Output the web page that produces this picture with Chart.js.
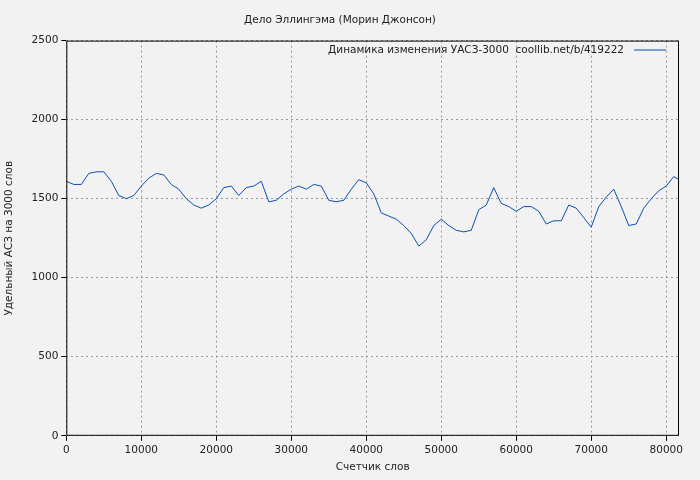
<!DOCTYPE html><html><head><meta charset="utf-8">
<script src="https://cdn.jsdelivr.net/npm/chart.js@4"></script>
<style>body{margin:0;background:#f2f2f2}#w{width:700px;height:480px}</style></head><body><div id="w"><canvas id="c"></canvas></div>
<script>
const xWords=[0,1000,2000,3000,4000,5000,6000,7000,8000,9000,10000,11000,12000,13000,14000,15000,16000,17000,18000,19000,20000,21000,22000,23000,24000,25000,26000,27000,28000,29000,30000,31000,32000,33000,34000,35000,36000,37000,38000,39000,40000,41000,42000,43000,44000,45000,46000,47000,48000,49000,50000,51000,52000,53000,54000,55000,56000,57000,58000,59000,60000,61000,62000,63000,64000,65000,66000,67000,68000,69000,70000,71000,72000,73000,74000,75000,76000,77000,78000,79000,80000,81000,81700];
const uasValues=[1610,1590,1590,1660,1670,1670,1610,1520,1500,1520,1580,1630,1660,1650,1590,1560,1500,1460,1440,1460,1500,1570,1580,1520,1570,1580,1610,1480,1490,1530,1560,1580,1560,1590,1580,1490,1480,1490,1560,1620,1600,1530,1410,1390,1370,1330,1280,1200,1240,1330,1370,1330,1300,1290,1300,1430,1460,1570,1470,1450,1420,1450,1450,1420,1340,1360,1360,1460,1440,1380,1320,1450,1510,1560,1450,1330,1340,1440,1500,1550,1580,1640,1620];
const xTicks=[0,10000,20000,30000,40000,50000,60000,70000,80000];
const yTicks=[0,500,1000,1500,2000,2500];
const legendLabel='Динамика изменения УАСЗ-3000  coollib.net/b/419222';
const F='"DejaVu Sans"';
const FS=10.5;
const leg={id:'leg',afterDraw(ch){const c=ch.ctx,a=ch.chartArea;c.save();c.font=FS+'px '+F;c.fillStyle='#222';c.textAlign='right';c.textBaseline='middle';c.fillText(legendLabel,a.right-55,50);c.strokeStyle='#0a4fb0';c.lineWidth=1;c.beginPath();c.moveTo(a.right-45,50);c.lineTo(a.right-13,50);c.stroke();c.restore();}};
const bg={id:'bg',beforeDraw(ch){const c=ch.ctx;c.save();c.fillStyle='#f2f2f2';c.fillRect(0,0,ch.width,ch.height);c.restore();},afterDraw(ch){const c=ch.ctx,a=ch.chartArea;c.save();c.strokeStyle='#000';c.lineWidth=1;c.strokeRect(a.left+0.5,a.top+0.5,a.width-1,a.height-1);c.restore();}};
const fmt=v=>String(v);
new Chart(document.getElementById('c'),{type:'line',data:{datasets:[{data:xWords.map((x,i)=>({x,y:uasValues[i]})),borderColor:'#0a4fb0',borderWidth:1,pointRadius:0,tension:0}]},
options:{responsive:true,maintainAspectRatio:false,animation:false,layout:{padding:{top:6,right:21,left:1,bottom:6}},
plugins:{legend:{display:false},title:{display:true,text:'Дело Эллингэма (Морин Джонсон)',font:{family:F,size:FS,weight:'normal'},color:'#222',padding:{top:8,bottom:14}}},
scales:{x:{type:'linear',min:0,max:81700,afterBuildTicks:s=>{s.ticks=xTicks.map(v=>({value:v}))},ticks:{callback:fmt,font:{family:F,size:FS},color:'#222',maxRotation:0,autoSkip:false},grid:{color:'#999',tickLength:5,tickColor:'#000'},border:{display:false,dash:[2,3]},title:{display:true,text:'Счетчик слов',font:{family:F,size:FS},color:'#222',padding:{top:2,bottom:0}}},
y:{min:0,max:2500,afterBuildTicks:s=>{s.ticks=yTicks.map(v=>({value:v}))},ticks:{callback:fmt,font:{family:F,size:FS},color:'#222'},grid:{color:'#999',tickLength:5,tickColor:'#000'},border:{display:false,dash:[2,3]},title:{display:true,text:'Удельный АСЗ на 3000 слов',font:{family:F,size:FS},color:'#222',padding:{top:2,bottom:13}}}}},
plugins:[bg,leg]});
</script></body></html>
